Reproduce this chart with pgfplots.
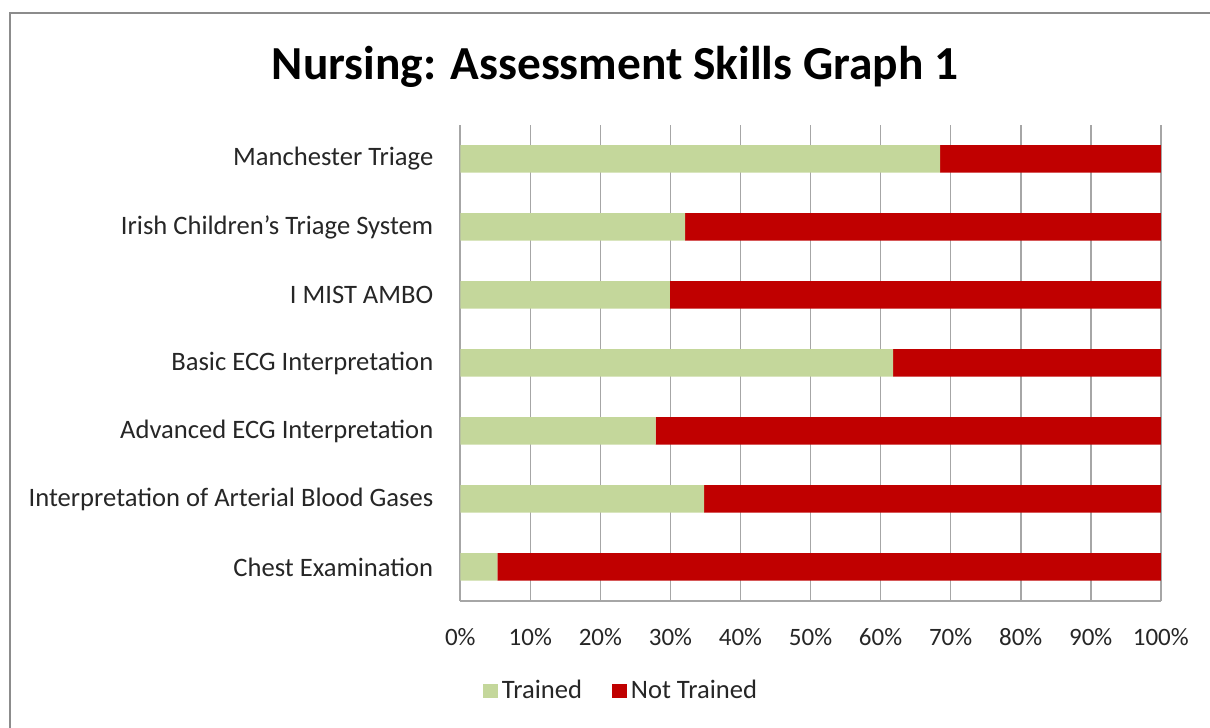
\documentclass[border=0pt]{standalone}
\usepackage{pgfplots}
\pgfplotsset{compat=1.18}
\usepackage{fontspec}
\setmainfont{Carlito}
\definecolor{trained}{HTML}{C4D79B}
\definecolor{nottrained}{HTML}{C00000}
\definecolor{gridgray}{HTML}{A6A6A6}
\definecolor{framegray}{HTML}{8C8C8C}
\begin{document}
\begin{tikzpicture}[x=0.5pt,y=0.5pt]
\useasboundingbox (0,0) rectangle (1210,728);
\draw[framegray, line width=1.2pt] (10,-20) -- (10,715) -- (1240,715);
\node[font=\bfseries\fontsize{23.7}{28}\selectfont, anchor=base] at (615,648) {Nursing: Assessment Skills Graph 1};
\begin{axis}[
  at={(230.15pt,63.5pt)}, anchor=south west,
  scale only axis, width=350.25pt, height=238pt,
  xbar stacked, bar width=13.75pt,
  xmin=0, xmax=100, ymin=-0.5, ymax=6.5,
  ytick={0,...,6},
  yticklabels={Chest Examination, Interpretation of Arterial Blood Gases, Advanced ECG Interpretation, Basic ECG Interpretation, I MIST AMBO, Irish Children’s Triage System, Manchester Triage},
  xtick={0,10,...,100},
  xticklabel={\pgfmathprintnumber{\tick}\%},
  /pgf/number format/assume math mode=true,
  axis x line=bottom, axis y line=left,
  axis line style={-, gridgray, line width=0.8pt},
  xmajorgrids, major grid style={gridgray, line width=0.8pt},
  major tick length=0pt,
  yticklabel style={font=\fontsize{13.3}{15}\selectfont, text=black!85, xshift=-10pt},
  xticklabel style={font=\fontsize{12.5}{15}\selectfont, text=black!85, yshift=-10pt},
  legend style={at={(0.231,-0.189)}, anchor=center, draw=none, legend columns=2,
    font=\fontsize{13.3}{15}\selectfont, text=black!85,
    /tikz/every even column/.style={column sep=13pt}},
  legend image code/.code={\fill[#1] (0pt,-3.7pt) rectangle (7.4pt,3.7pt);},
]
\addplot[fill=trained, draw=none] coordinates {(5.3,0) (34.8,1) (27.9,2) (61.8,3) (29.9,4) (32.1,5) (68.5,6)};
\addplot[fill=nottrained, draw=none] coordinates {(94.7,0) (65.2,1) (72.1,2) (38.2,3) (70.1,4) (67.9,5) (31.5,6)};
\legend{Trained, Not Trained}
\end{axis}
\end{tikzpicture}
\end{document}
